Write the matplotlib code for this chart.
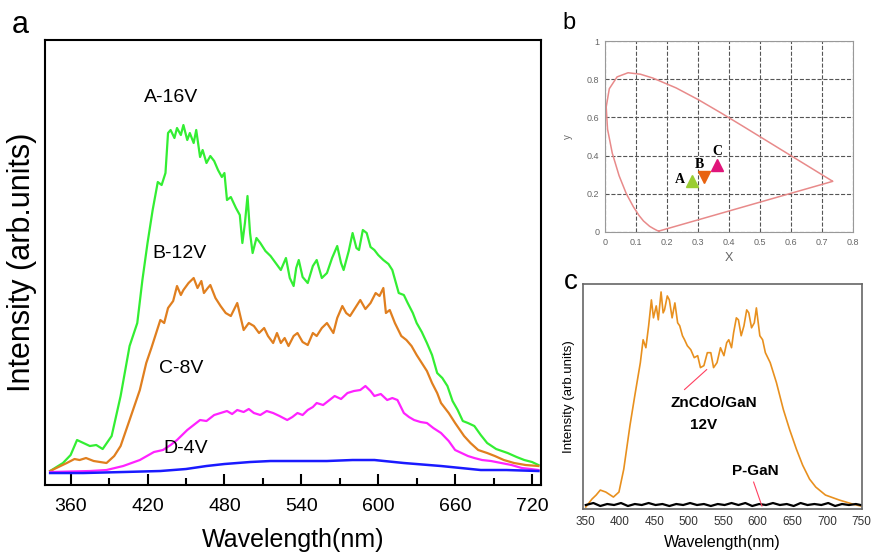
import numpy as np
import matplotlib.pyplot as plt

plt.rcParams['font.family'] = ['Liberation Sans', 'DejaVu Sans']

# ---- panel a: EL spectra at different bias voltages ----
wl_a16 = [344, 354, 360, 365, 370, 375, 380, 385, 392, 399, 406, 412, 416, 420, 424, 428, 431, 434,
          436, 438, 441, 443, 446, 448, 451, 453, 456, 458, 461, 463, 466, 469, 472, 475, 478, 480,
          482, 485, 489, 492, 494, 496, 498, 500, 502, 505, 508, 512, 516, 520, 524, 528, 531, 534,
          536, 538, 541, 545, 549, 552, 556, 560, 564, 568, 571, 573, 577, 580, 583, 585, 588, 591,
          594, 597, 600, 604, 608, 611, 616, 620, 623, 627, 630, 634, 638, 642, 646, 650, 654, 658,
          662, 666, 670, 675, 680, 685, 692, 701, 708, 714, 720, 725]
int_a16 = [2, 10, 18, 33, 30, 27, 28, 24, 37, 77, 127, 150, 193, 230, 263, 291, 288, 300,
           340, 343, 335, 345, 338, 348, 333, 340, 330, 343, 316, 323, 310, 317, 312, 303, 296, 300,
           273, 276, 265, 258, 230, 250, 277, 240, 220, 235, 230, 222, 217, 210, 203, 215, 195, 187,
           205, 213, 196, 190, 207, 213, 195, 200, 215, 227, 210, 203, 222, 240, 225, 223, 243, 240,
           226, 223, 218, 213, 209, 203, 180, 178, 170, 160, 150, 141, 130, 118, 100, 95, 87, 72,
           63, 52, 50, 47, 38, 30, 24, 20, 16, 13, 11, 8]

wl_b12 = [344, 357, 363, 367, 372, 378, 388, 394, 399, 406, 414, 419, 423, 426, 430, 433, 436, 440,
          443, 446, 448, 452, 456, 459, 462, 464, 467, 469, 473, 477, 481, 485, 490, 495, 499, 503,
          507, 511, 514, 518, 521, 524, 527, 530, 534, 537, 541, 545, 549, 552, 556, 560, 565, 568,
          572, 575, 578, 582, 586, 590, 594, 598, 601, 604, 606, 609, 613, 618, 622, 626, 630, 634,
          638, 642, 646, 649, 655, 660, 667, 672, 678, 685, 691, 698, 706, 715, 725]
int_b12 = [2, 10, 14, 13, 15, 12, 10, 17, 27, 53, 83, 110, 125, 137, 153, 150, 165, 172,
           187, 178, 183, 190, 195, 185, 192, 180, 185, 188, 175, 167, 160, 157, 170, 143, 150, 147,
           140, 145, 137, 130, 140, 130, 135, 127, 137, 140, 131, 128, 140, 137, 145, 150, 140, 155,
           167, 160, 157, 165, 173, 164, 170, 180, 177, 185, 160, 163, 150, 137, 133, 127, 118, 110,
           102, 90, 80, 70, 60, 50, 37, 30, 23, 20, 17, 13, 10, 8, 7]

wl_c8 = [344, 375, 388, 401, 414, 425, 432, 438, 443, 447, 451, 456, 461, 466, 472, 477, 482, 486,
         490, 495, 499, 503, 508, 513, 518, 523, 529, 533, 537, 541, 545, 549, 552, 557, 561, 566,
         571, 576, 581, 586, 590, 594, 597, 602, 607, 611, 615, 620, 624, 628, 633, 638, 643, 649,
         655, 660, 665, 670, 675, 681, 688, 696, 704, 712, 719, 725]
int_c8 = [1, 2, 3, 7, 13, 21, 23, 28, 33, 38, 43, 48, 53, 52, 58, 60, 62, 59,
          63, 61, 64, 60, 58, 62, 60, 57, 53, 56, 60, 58, 63, 66, 70, 68, 72, 77,
          74, 80, 82, 83, 87, 82, 77, 79, 73, 75, 73, 60, 56, 53, 51, 50, 45, 40,
          32, 23, 20, 17, 15, 13, 12, 10, 8, 5, 4, 3]

wl_d4 = [344, 370, 401, 430, 450, 466, 480, 500, 516, 540, 560, 580, 597, 620, 649, 680, 700, 725]
int_d4 = [0, 0, 1, 2, 4, 7, 9, 11, 12, 12, 12, 13, 13, 10, 7, 3, 3, 2]

labels_a = ['A-16V', 'B-12V', 'C-8V', 'D-4V']
label_pos_a = [(438, 376), (445, 220), (446, 105), (450, 25)]

# ---- panel b: CIE 1931 chromaticity coordinates ----
locus_x = [0.1741, 0.1714, 0.1644, 0.1566, 0.1440, 0.1241, 0.1096, 0.0913, 0.0687, 0.0454, 0.0235,
           0.0082, 0.0039, 0.0139, 0.0389, 0.0743, 0.1142, 0.1547, 0.2296, 0.3016, 0.3731, 0.4441,
           0.5125, 0.5752, 0.6270, 0.6658, 0.6915, 0.7190, 0.7300, 0.7347, 0.1741]
locus_y = [0.0050, 0.0051, 0.0109, 0.0177, 0.0297, 0.0578, 0.0868, 0.1327, 0.2007, 0.2950, 0.4127,
           0.5384, 0.6548, 0.7502, 0.8120, 0.8338, 0.8262, 0.8059, 0.7543, 0.6923, 0.6245, 0.5547,
           0.4866, 0.4242, 0.3725, 0.3340, 0.3083, 0.2809, 0.2700, 0.2653, 0.0050]
pts_name = ['A', 'B', 'C']
pts_x = [0.282, 0.320, 0.361]
pts_y = [0.267, 0.288, 0.349]

# ---- panel c: ZnCdO/GaN at 12V vs p-GaN ----
wl_zn = [351, 360, 366, 372, 380, 391, 399, 406, 415, 422, 430, 434, 438, 442, 446, 449, 453, 456,
         460, 463, 465, 469, 472, 476, 480, 484, 487, 491, 494, 498, 503, 508, 513, 517, 522, 527,
         532, 536, 541, 546, 551, 555, 558, 562, 565, 569, 572, 576, 580, 584, 587, 591, 595, 598,
         603, 607, 611, 618, 627, 637, 646, 656, 665, 675, 684, 698, 718, 737, 749]
int_zn = [0, 8, 12, 17, 15, 10, 15, 38, 82, 112, 145, 168, 160, 182, 208, 190, 202, 188,
          216, 195, 198, 212, 208, 190, 205, 185, 182, 172, 168, 162, 158, 150, 152, 140, 142, 155,
          155, 140, 145, 160, 152, 165, 168, 160, 175, 190, 188, 172, 182, 198, 195, 180, 185, 200,
          172, 168, 155, 145, 125, 98, 78, 58, 42, 28, 20, 12, 7, 3, 1]
wl_pgan = [351, 362, 372, 382, 392, 402, 412, 422, 432, 442, 452, 462, 472, 482, 492, 502, 512, 522,
           532, 542, 552, 562, 572, 582, 592, 602, 612, 622, 632, 642, 652, 662, 672, 682, 692, 702,
           712, 722, 732, 742, 749]
int_pgan = [2, 4, 1, 3, 2, 4, 1, 3, 2, 4, 2, 3, 1, 3, 2, 4, 2, 3, 1, 3, 2, 4, 2, 4, 1, 3, 2, 4,
            2, 3, 1, 4, 2, 3, 2, 4, 1, 3, 2, 3, 2]

fig = plt.figure(figsize=(8.72, 5.55), dpi=100)

# panel a
ax = fig.add_axes([0.0516, 0.1261, 0.5688, 0.8018])
ax.plot(wl_a16, int_a16, color='#33ee33', lw=1.6)
ax.plot(wl_b12, int_b12, color='#e07f1f', lw=1.6)
ax.plot(wl_c8, int_c8, color='#ff22ff', lw=1.6)
ax.plot(wl_d4, int_d4, color='#1a1aff', lw=1.8)
for t, (x, y) in zip(labels_a, label_pos_a):
    ax.text(x, y, t, fontsize=14, ha='center', va='center')
ax.set_xlim(340, 727)
ax.set_ylim(-12, 433)
ax.set_xticks(range(360, 721, 60))
ax.set_xticks(range(390, 720, 60), minor=True)
ax.set_yticks([])
ax.tick_params(axis='x', direction='in', length=8, width=1.5, labelsize=14, pad=9)
ax.tick_params(axis='x', which='minor', direction='in', length=5, width=1.5)
for s in ax.spines.values():
    s.set_linewidth(1.5)
ax.set_xlabel('Wavelength(nm)', fontsize=18, labelpad=10)
ax.set_ylabel('Intensity (arb.units)', fontsize=22, labelpad=6)
fig.text(0.014, 0.955, 'a', fontsize=22, va='center')

# panel b
bx = fig.add_axes([0.6938, 0.582, 0.2844, 0.3441])
bx.plot(locus_x, locus_y, color='#e88a8a', lw=1.1)
bx.plot(pts_x[0], pts_y[0], marker='^', color='#9acd32', ms=8, ls='none')
bx.plot(pts_x[1], pts_y[1], marker='v', color='#e8620f', ms=8, ls='none')
bx.plot(pts_x[2], pts_y[2], marker='^', color='#e0157a', ms=8, ls='none')
for n, x, y, dx, dy in zip(pts_name, pts_x, pts_y, [-0.04, -0.016, 0.0], [0.007, 0.066, 0.075]):
    bx.text(x + dx, y + dy, n, family='Liberation Serif', fontweight='bold', fontsize=10,
            ha='center', va='center')
bx.set_xlim(0, 0.8)
bx.set_ylim(0, 1)
bx.set_xticks(np.arange(0, 0.81, 0.1))
bx.set_xticklabels(['0', '0.1', '0.2', '0.3', '0.4', '0.5', '0.6', '0.7', '0.8'])
bx.set_yticks(np.arange(0, 1.01, 0.2))
bx.set_yticklabels(['0', '0.2', '0.4', '0.6', '0.8', '1'])
bx.grid(True, ls='--', color='#555555', lw=0.8)
bx.tick_params(length=0, labelsize=6.5, labelcolor='#666666', pad=4)
for s in bx.spines.values():
    s.set_color('#999999')
bx.set_xlabel('X', fontsize=9, color='#666666', labelpad=4)
bx.set_ylabel('y', fontsize=7, color='#666666', labelpad=10)
fig.text(0.645, 0.958, 'b', fontsize=17, va='center')

# panel c
cx = fig.add_axes([0.6686, 0.0829, 0.32, 0.4054])
cx.plot(wl_zn, int_zn, color='#e8901e', lw=1.2)
cx.plot(wl_pgan, int_pgan, color='black', lw=1.6)
cx.plot([494, 526], [118, 138], color='#ff4060', lw=0.8)
cx.plot([594, 606], [25, 1], color='#ff4060', lw=0.8)
cx.text(536, 104, 'ZnCdO/GaN', fontsize=11, fontweight='bold', ha='center', va='center')
cx.text(522, 82, '12V', fontsize=11, fontweight='bold', ha='center', va='center')
cx.text(596, 36, 'P-GaN', fontsize=11, fontweight='bold', ha='center', va='center')
cx.set_xlim(347, 751)
cx.set_ylim(-2, 224)
cx.set_xticks(range(350, 751, 50))
cx.set_yticks([])
cx.tick_params(axis='x', length=0, labelsize=8.5, labelcolor='#333333', pad=5)
for s in cx.spines.values():
    s.set_color('#666666')
    s.set_linewidth(1.2)
cx.set_xlabel('Wavelength(nm)', fontsize=11.5, labelpad=5)
cx.set_ylabel('Intensity (arb.units)', fontsize=9.5, labelpad=6)
fig.text(0.647, 0.492, 'c', fontsize=20, va='center')

fig.savefig('out.png', dpi=100)
